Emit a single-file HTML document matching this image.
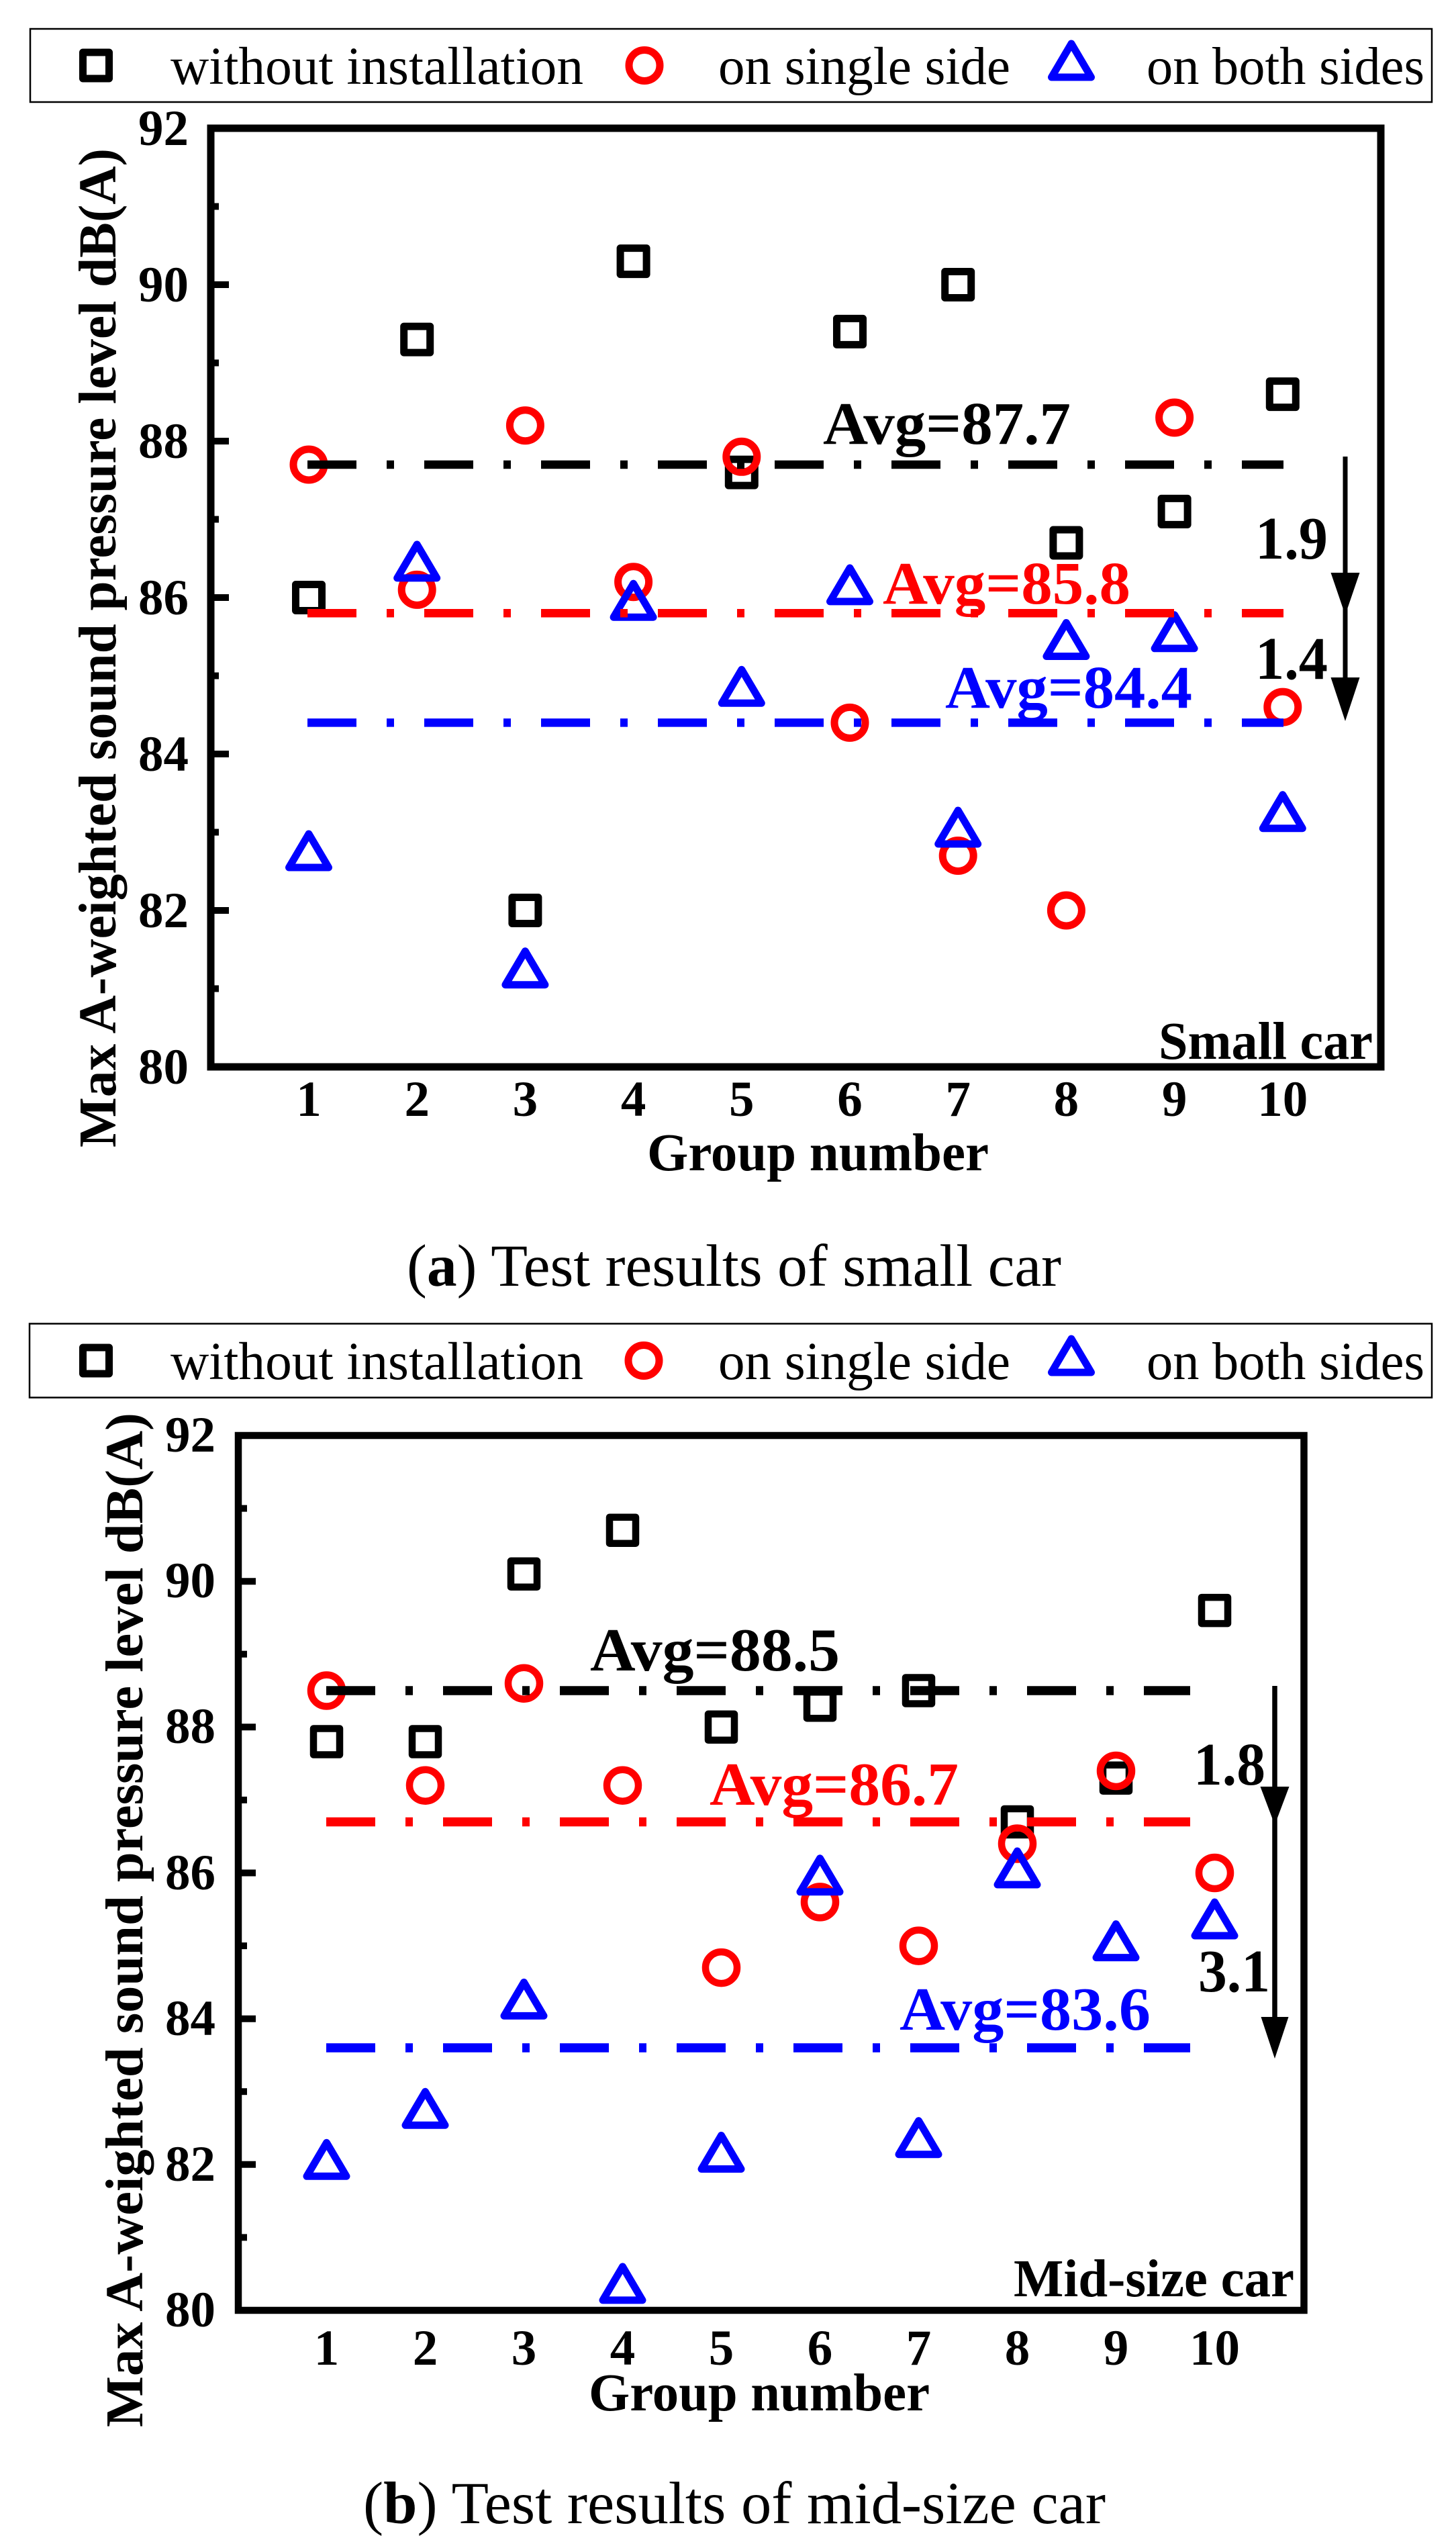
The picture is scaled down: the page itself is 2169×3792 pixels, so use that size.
<!DOCTYPE html>
<html><head><meta charset="utf-8"><style>
html,body{margin:0;padding:0;background:#fff;}
svg{display:block;}
text{font-family:"Liberation Serif","Times New Roman",serif;}
.b{font-weight:bold;}
</style></head><body>
<svg width="2169" height="3792" viewBox="0 0 2169 3792" xmlns="http://www.w3.org/2000/svg">
<rect x="0" y="0" width="2169" height="3792" fill="#fff"/>

<!-- ================= LEGEND A ================= -->
<rect x="45" y="43" width="2088" height="109" fill="none" stroke="#000" stroke-width="2.5"/>
<rect x="123.5" y="78" width="39" height="39" fill="none" stroke="#000" stroke-width="11" stroke-linejoin="round"/>
<circle cx="960" cy="97.5" r="23" fill="none" stroke="#f00" stroke-width="11"/>
<path d="M1596,65 l29.5,50 h-59 z" fill="none" stroke="#00f" stroke-width="11" stroke-linejoin="round"/>
<text x="254" y="125" font-size="79" textLength="615" lengthAdjust="spacingAndGlyphs">without installation</text>
<text x="1070" y="125" font-size="79" textLength="435" lengthAdjust="spacingAndGlyphs">on single side</text>
<text x="1708" y="125" font-size="79" textLength="414" lengthAdjust="spacingAndGlyphs">on both sides</text>

<!-- ================= PLOT A ================= -->
<g stroke="#000" stroke-width="10">
<line x1="314" y1="191" x2="341" y2="191"/>
<line x1="314" y1="307.5" x2="326" y2="307.5"/>
<line x1="314" y1="424" x2="341" y2="424"/>
<line x1="314" y1="540.5" x2="326" y2="540.5"/>
<line x1="314" y1="657" x2="341" y2="657"/>
<line x1="314" y1="773.5" x2="326" y2="773.5"/>
<line x1="314" y1="890" x2="341" y2="890"/>
<line x1="314" y1="1006.5" x2="326" y2="1006.5"/>
<line x1="314" y1="1123" x2="341" y2="1123"/>
<line x1="314" y1="1239.5" x2="326" y2="1239.5"/>
<line x1="314" y1="1356" x2="341" y2="1356"/>
<line x1="314" y1="1472.5" x2="326" y2="1472.5"/>
</g>
<rect x="314" y="191" width="1743" height="1398" fill="none" stroke="#000" stroke-width="11"/>
<g class="b" font-size="75" text-anchor="end">
<text x="281" y="216">92</text>
<text x="281" y="449">90</text>
<text x="281" y="682">88</text>
<text x="281" y="915">86</text>
<text x="281" y="1148">84</text>
<text x="281" y="1381">82</text>
<text x="281" y="1614">80</text>
</g>
<g class="b" font-size="75" text-anchor="middle">
<text x="460" y="1662">1</text>
<text x="621.2" y="1662">2</text>
<text x="782.4" y="1662">3</text>
<text x="943.6" y="1662">4</text>
<text x="1104.8" y="1662">5</text>
<text x="1266" y="1662">6</text>
<text x="1427.2" y="1662">7</text>
<text x="1588.4" y="1662">8</text>
<text x="1749.6" y="1662">9</text>
<text x="1910.8" y="1662">10</text>
</g>
<text class="b" x="964" y="1743" font-size="79" textLength="509" lengthAdjust="spacingAndGlyphs">Group number</text>
<text class="b" font-size="79" text-anchor="middle" transform="translate(172,965) rotate(-90)" textLength="1488" lengthAdjust="spacingAndGlyphs">Max A-weighted sound pressure level dB(A)</text>
<text class="b" x="1726" y="1577" font-size="79" textLength="319" lengthAdjust="spacingAndGlyphs">Small car</text>

<g fill="none" stroke="#000" stroke-width="11" stroke-linejoin="round">
<rect x="440.5" y="870.5" width="39" height="39"/>
<rect x="601.7" y="486.1" width="39" height="39"/>
<rect x="762.9" y="1336.5" width="39" height="39"/>
<rect x="924.1" y="369.6" width="39" height="39"/>
<rect x="1085.3" y="684.1" width="39" height="39"/>
<rect x="1246.5" y="474.4" width="39" height="39"/>
<rect x="1407.7" y="404.5" width="39" height="39"/>
<rect x="1568.9" y="789" width="39" height="39"/>
<rect x="1730.1" y="742.4" width="39" height="39"/>
<rect x="1891.3" y="567.6" width="39" height="39"/>
</g>
<g fill="none" stroke="#f00" stroke-width="11">
<circle cx="460" cy="692" r="23"/>
<circle cx="621.2" cy="878.4" r="23"/>
<circle cx="782.4" cy="633.7" r="23"/>
<circle cx="943.6" cy="866.7" r="23"/>
<circle cx="1104.8" cy="680.3" r="23"/>
<circle cx="1266" cy="1076.4" r="23"/>
<circle cx="1427.2" cy="1274.5" r="23"/>
<circle cx="1588.4" cy="1356" r="23"/>
<circle cx="1749.6" cy="622" r="23"/>
<circle cx="1910.8" cy="1053.1" r="23"/>
</g>
<g fill="none" stroke="#00f" stroke-width="11" stroke-linejoin="round">
<path d="M460,1242 l29.5,50 h-59 z"/>
<path d="M621.2,810.9 l29.5,50 h-59 z"/>
<path d="M782.4,1416.7 l29.5,50 h-59 z"/>
<path d="M943.6,869.2 l29.5,50 h-59 z"/>
<path d="M1104.8,997.3 l29.5,50 h-59 z"/>
<path d="M1266,845.9 l29.5,50 h-59 z"/>
<path d="M1427.2,1207 l29.5,50 h-59 z"/>
<path d="M1588.4,927.5 l29.5,50 h-59 z"/>
<path d="M1749.6,915.8 l29.5,50 h-59 z"/>
<path d="M1910.8,1183.7 l29.5,50 h-59 z"/>
</g>
<g stroke-width="12.5" stroke-dasharray="73 45 11 45">
<line x1="458" y1="692" x2="1912" y2="692" stroke="#000"/>
<line x1="458" y1="913.3" x2="1912" y2="913.3" stroke="#f00"/>
<line x1="458" y1="1076.4" x2="1912" y2="1076.4" stroke="#00f"/>
</g>
<text class="b" x="1226" y="661" font-size="90" fill="#000" textLength="369" lengthAdjust="spacingAndGlyphs">Avg=87.7</text>
<text class="b" x="1315" y="899" font-size="90" fill="#f00" textLength="369" lengthAdjust="spacingAndGlyphs">Avg=85.8</text>
<text class="b" x="1408" y="1054" font-size="90" fill="#00f" textLength="368" lengthAdjust="spacingAndGlyphs">Avg=84.4</text>
<line x1="2004" y1="680" x2="2004" y2="1060" stroke="#000" stroke-width="7"/>
<polygon points="1982.5,853 2025.5,853 2004,916" fill="#000"/>
<polygon points="1982.5,1009 2025.5,1009 2004,1074" fill="#000"/>
<text class="b" x="1870" y="832" font-size="90" textLength="108" lengthAdjust="spacingAndGlyphs">1.9</text>
<text class="b" x="1870" y="1011" font-size="90" textLength="108" lengthAdjust="spacingAndGlyphs">1.4</text>

<text x="606" y="1915" font-size="89" textLength="975" lengthAdjust="spacingAndGlyphs">(<tspan font-weight="bold">a</tspan>) Test results of small car</text>

<!-- ================= LEGEND B ================= -->
<rect x="44" y="1971.5" width="2089" height="110" fill="none" stroke="#000" stroke-width="2.5"/>
<rect x="123.5" y="2007" width="39" height="39" fill="none" stroke="#000" stroke-width="11" stroke-linejoin="round"/>
<circle cx="959" cy="2026.5" r="23" fill="none" stroke="#f00" stroke-width="11"/>
<path d="M1596,1994 l29.5,50 h-59 z" fill="none" stroke="#00f" stroke-width="11" stroke-linejoin="round"/>
<text x="254" y="2054" font-size="79" textLength="615" lengthAdjust="spacingAndGlyphs">without installation</text>
<text x="1070" y="2054" font-size="79" textLength="435" lengthAdjust="spacingAndGlyphs">on single side</text>
<text x="1708" y="2054" font-size="79" textLength="414" lengthAdjust="spacingAndGlyphs">on both sides</text>

<!-- ================= PLOT B ================= -->
<g stroke="#000" stroke-width="10">
<line x1="355" y1="2138" x2="381" y2="2138"/>
<line x1="355" y1="2246.6" x2="368" y2="2246.6"/>
<line x1="355" y1="2355.2" x2="381" y2="2355.2"/>
<line x1="355" y1="2463.7" x2="368" y2="2463.7"/>
<line x1="355" y1="2572.3" x2="381" y2="2572.3"/>
<line x1="355" y1="2680.9" x2="368" y2="2680.9"/>
<line x1="355" y1="2789.5" x2="381" y2="2789.5"/>
<line x1="355" y1="2898.1" x2="368" y2="2898.1"/>
<line x1="355" y1="3006.7" x2="381" y2="3006.7"/>
<line x1="355" y1="3115.2" x2="368" y2="3115.2"/>
<line x1="355" y1="3223.8" x2="381" y2="3223.8"/>
<line x1="355" y1="3332.4" x2="368" y2="3332.4"/>
</g>
<rect x="355" y="2138" width="1587.5" height="1303" fill="none" stroke="#000" stroke-width="10.5"/>
<g class="b" font-size="75" text-anchor="end">
<text x="321" y="2162">92</text>
<text x="321" y="2379">90</text>
<text x="321" y="2596">88</text>
<text x="321" y="2814">86</text>
<text x="321" y="3031">84</text>
<text x="321" y="3248">82</text>
<text x="321" y="3465">80</text>
</g>
<g class="b" font-size="75" text-anchor="middle">
<text x="486.5" y="3522">1</text>
<text x="633.5" y="3522">2</text>
<text x="780.5" y="3522">3</text>
<text x="927.5" y="3522">4</text>
<text x="1074.5" y="3522">5</text>
<text x="1221.5" y="3522">6</text>
<text x="1368.5" y="3522">7</text>
<text x="1515.5" y="3522">8</text>
<text x="1662.5" y="3522">9</text>
<text x="1809.5" y="3522">10</text>
</g>
<text class="b" x="877" y="3590" font-size="79" textLength="508" lengthAdjust="spacingAndGlyphs">Group number</text>
<text class="b" font-size="79" text-anchor="middle" transform="translate(212,2859.5) rotate(-90)" textLength="1511" lengthAdjust="spacingAndGlyphs">Max A-weighted sound pressure level dB(A)</text>
<text class="b" x="1510" y="3420" font-size="79" textLength="418" lengthAdjust="spacingAndGlyphs">Mid-size car</text>

<g fill="none" stroke="#000" stroke-width="10.5" stroke-linejoin="round">
<rect x="467" y="2574.5" width="39" height="39"/>
<rect x="614" y="2574.5" width="39" height="39"/>
<rect x="761" y="2324.8" width="39" height="39"/>
<rect x="908" y="2259.7" width="39" height="39"/>
<rect x="1055" y="2552.8" width="39" height="39"/>
<rect x="1202" y="2520.2" width="39" height="39"/>
<rect x="1349" y="2498.5" width="39" height="39"/>
<rect x="1496" y="2694" width="39" height="39"/>
<rect x="1643" y="2628.8" width="39" height="39"/>
<rect x="1790" y="2379.1" width="39" height="39"/>
</g>
<g fill="none" stroke="#f00" stroke-width="10.5">
<circle cx="486.5" cy="2518" r="23.5"/>
<circle cx="633.5" cy="2659.2" r="23.5"/>
<circle cx="780.5" cy="2507.2" r="23.5"/>
<circle cx="927.5" cy="2659.2" r="23.5"/>
<circle cx="1074.5" cy="2930.6" r="23.5"/>
<circle cx="1221.5" cy="2832.9" r="23.5"/>
<circle cx="1368.5" cy="2898.1" r="23.5"/>
<circle cx="1515.5" cy="2746" r="23.5"/>
<circle cx="1662.5" cy="2637.5" r="23.5"/>
<circle cx="1809.5" cy="2789.5" r="23.5"/>
</g>
<g fill="none" stroke="#00f" stroke-width="11" stroke-linejoin="round">
<path d="M486.5,3191.3 l29.5,50 h-59 z"/>
<path d="M633.5,3115.3 l29.5,50 h-59 z"/>
<path d="M780.5,2952.4 l29.5,50 h-59 z"/>
<path d="M927.5,3375.9 l29.5,50 h-59 z"/>
<path d="M1074.5,3180.5 l29.5,50 h-59 z"/>
<path d="M1221.5,2767.8 l29.5,50 h-59 z"/>
<path d="M1368.5,3158.7 l29.5,50 h-59 z"/>
<path d="M1515.5,2757 l29.5,50 h-59 z"/>
<path d="M1662.5,2865.6 l29.5,50 h-59 z"/>
<path d="M1809.5,2833 l29.5,50 h-59 z"/>
</g>
<g stroke-width="13.5" stroke-dasharray="73 45 11 45">
<line x1="486" y1="2518" x2="1773" y2="2518" stroke="#000"/>
<line x1="486" y1="2713.5" x2="1773" y2="2713.5" stroke="#f00"/>
<line x1="486" y1="3050" x2="1773" y2="3050" stroke="#00f"/>
</g>
<text class="b" x="879" y="2488" font-size="91" fill="#000" textLength="372" lengthAdjust="spacingAndGlyphs">Avg=88.5</text>
<text class="b" x="1057" y="2688" font-size="91" fill="#f00" textLength="371" lengthAdjust="spacingAndGlyphs">Avg=86.7</text>
<text class="b" x="1340" y="3023" font-size="91" fill="#00f" textLength="374" lengthAdjust="spacingAndGlyphs">Avg=83.6</text>
<line x1="1899" y1="2511" x2="1899" y2="3050" stroke="#000" stroke-width="7.5"/>
<polygon points="1877.5,2661 1920.5,2661 1899,2718" fill="#000"/>
<polygon points="1878.5,3004 1919.5,3004 1899,3066" fill="#000"/>
<text class="b" x="1778" y="2658" font-size="90" textLength="107" lengthAdjust="spacingAndGlyphs">1.8</text>
<text class="b" x="1785" y="2966" font-size="90" textLength="107" lengthAdjust="spacingAndGlyphs">3.1</text>

<text x="541" y="3758" font-size="89" textLength="1106" lengthAdjust="spacingAndGlyphs">(<tspan font-weight="bold">b</tspan>) Test results of mid-size car</text>
</svg>
</body></html>
